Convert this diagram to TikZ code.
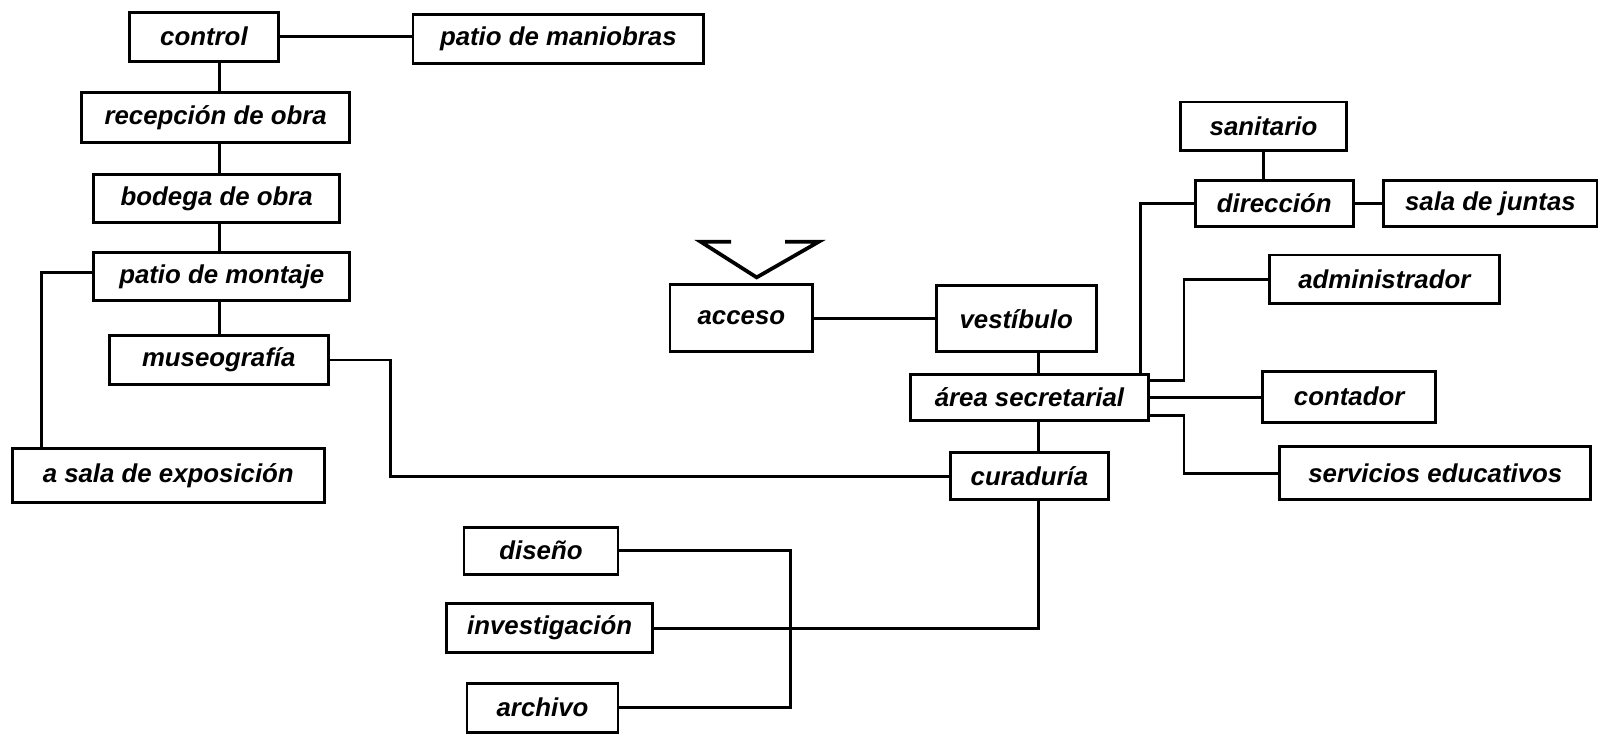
\documentclass[tikz,border=0pt]{standalone}
\usepackage{fontspec}
\setmainfont{Liberation Sans}
\usepackage{tikz}
\usetikzlibrary{positioning,calc}
\tikzset{
  box/.style={draw, rectangle, line width=2pt, inner sep=2pt, align=center, font=\fontsize{18}{20}\selectfont\bfseries\itshape},
  link/.style={line width=2pt},
  entrada/.style={line width=2.6pt, line join=miter}
}

\begin{document}
\begin{tikzpicture}[x=0.25mm, y=-0.25mm]
\useasboundingbox (0,0) rectangle (1568,719);
% ala de obra
\node[box, minimum width=36.5mm, minimum height=12mm] (control) at (200,36) {control};
\node[box, minimum width=71.25mm, minimum height=12mm] (maniobras) at (547.5,38) {patio de maniobras};
\node[box, minimum width=65.75mm, minimum height=12.25mm] (recep) at (211.5,115.5) {recepción de obra};
\node[box, minimum width=60.25mm, minimum height=11.75mm] (bodega) at (212.5,194.5) {bodega de obra};
\node[box, minimum width=62.75mm, minimum height=11.75mm] (montaje) at (217.5,271.5) {patio de montaje};
\node[box, minimum width=53.75mm, minimum height=12mm] (museo) at (214.5,353) {museografía};
\node[box, minimum width=76.5mm, minimum height=13.25mm] (sala) at (165,466.5) {a sala de exposición};
% acceso y oficinas
\node[box, minimum width=35mm, minimum height=16.5mm] (acceso) at (727,312) {acceso};
\node[box, minimum width=39.25mm, minimum height=16.25mm] (vest) at (996.5,312.5) {vestíbulo};
\node[box, minimum width=58.25mm, minimum height=11.25mm] (area) at (1009.5,389.5) {área secretarial};
\node[box, minimum width=38.75mm, minimum height=11.5mm] (cura) at (1009.5,467) {curaduría};
\node[box, minimum width=40.5mm, minimum height=12mm] (sanit) at (1239,124) {sanitario};
\node[box, minimum width=38.75mm, minimum height=11.25mm] (dir) at (1249.5,199.5) {dirección};
\node[box, minimum width=52.25mm, minimum height=11.25mm] (juntas) at (1461.5,199.5) {sala de juntas};
\node[box, minimum width=56.25mm, minimum height=12mm] (admin) at (1357.5,274) {administrador};
\node[box, minimum width=42.5mm, minimum height=12.5mm] (cont) at (1323,389) {contador};
\node[box, minimum width=76.25mm, minimum height=13mm] (serv) at (1407.5,464) {servicios educativos};
% curaduria
\node[box, minimum width=37.75mm, minimum height=11.5mm] (diseno) at (530.5,540) {diseño};
\node[box, minimum width=50.5mm, minimum height=12mm] (invest) at (539,616) {investigación};
\node[box, minimum width=37mm, minimum height=12mm] (archivo) at (532,694) {archivo};

\coordinate (spine) at (215,0);
\coordinate (bend1) at (383,0);
\coordinate (axis) at (1018,0);
\coordinate (up) at (1118,0);
\coordinate (fork) at (1161,0);
\coordinate (bend2) at (775,0);

\draw[link] (control.south -| spine) -- (recep.north -| spine);
\draw[link] (recep.south -| spine) -- (bodega.north -| spine);
\draw[link] (bodega.south -| spine) -- (montaje.north -| spine);
\draw[link] (montaje.south -| spine) -- (museo.north -| spine);
\draw[link] (control.east) -- (control.east -| maniobras.west);
\draw[link] ([yshift=1.1mm]montaje.west) -| ($(sala.north west)+(30,0)$);
\draw[link] (museo.east) -| (bend1 |- cura.west) -- (cura.west);

\draw[link] (acceso.east) -- (acceso.east -| vest.west);
\draw[link] (vest.south -| axis) -- (area.north -| axis);
\draw[link] (area.south -| axis) -- (cura.north -| axis);
\draw[link] (cura.south -| axis) |- (invest.east);
\draw[link] (sanit.south) -- (sanit.south |- dir.north);
\draw[link] (dir.east) -- (juntas.west);
\draw[link] (area.north -| up) |- (dir.west);
\draw[link] ([yshift=4.1mm]area.east) -| (fork |- admin.west) -- (admin.west);
\draw[link] (area.east) -- (area.east -| cont.west);
\draw[link] ([yshift=-4.4mm]area.east) -| (fork |- serv.west) -- (serv.west);
\draw[link] (diseno.east) -| (bend2 |- archivo.east) -- (archivo.east);

% entrada
\draw[entrada] (717,237) -- (687,237) -- (742,272) -- (803,237) -- (770,237);
\end{tikzpicture}
\end{document}
